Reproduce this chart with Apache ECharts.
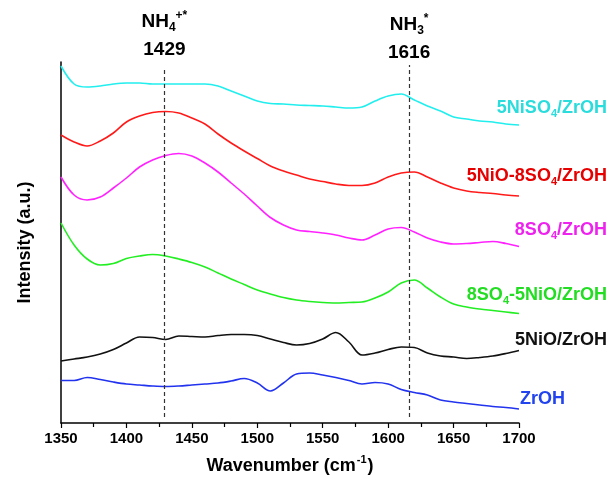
<!DOCTYPE html>
<html>
<head>
<meta charset="utf-8">
<script src="https://cdn.jsdelivr.net/npm/echarts@6/dist/echarts.min.js"></script>
<style>
  html, body { margin: 0; padding: 0; background: #fff; }
  #chart { width: 611px; height: 482px; }
</style>
</head>
<body>
<div id="chart"></div>
<script>
// 波数 (cm-1)
var wavenumber = [1350,1360,1370,1380,1390,1400,1410,1420,1430,1440,1450,1460,1470,1480,1490,1500,1510,1520,
                  1530,1540,1550,1560,1570,1580,1590,1600,1610,1620,1630,1640,1650,1660,1670,1680,1690,1700];

// 各样品的强度 (a.u.，已包含堆叠偏移)
var niSO4 = [357,339,336,337,339,340,340,339,339,339,339,339,337,332,327,322,319.5,319,
             318,317.5,317,316,315,316,322,327,329,323,317,312,306,304,302,301,299,298];
var niO8SO4 = [288,281,277,282,290,301,307,310.5,311.5,310,305,299,289,280,272,264.5,257,252,
               248,244,241.5,239,237.5,237.5,240,246,250,251,246,240,235,232,230.5,229.5,228,227];
var so4 = [246,228,223,226,235,245,256,263,267.5,269.5,267,260,251,240,229,217,205.5,198,
           193,191.5,190,188,185,183,188,194,195.5,191,185,181,179,179.5,180.5,181.5,179.5,176.5];
var so4NiO = [200,178,164,158,159.5,164.5,167,168.5,167,164,160.5,156,150,144,138.5,133,129,125.5,
              123,121.5,120.5,120,120.5,121,125,131,140,143,135,126,119,116,114,112.5,111,109.5];
var niO = [62,64,66,69,73.5,80,86,85.5,83.5,87,86.5,86,87.5,88.5,88.5,87.5,84,80.5,
           78,79.5,84,90.5,81,68,70,73.5,76,75.5,70,67,66,64.5,65.5,67,69.5,72.5];
var zrOH = [42.5,42.5,45.5,43.5,41,39,38,37,36.5,37,38,39,40,42,44.5,40,32,40,
            49,50,48,45.5,42.5,39,40.5,39,33.5,30.5,28,23,21,19.5,18,16.5,15.5,14];

var seriesNames = ['5NiSO4/ZrOH','5NiO-8SO4/ZrOH','8SO4/ZrOH','8SO4-5NiO/ZrOH','5NiO/ZrOH','ZrOH'];
var seriesData = [niSO4, niO8SO4, so4, so4NiO, niO, zrOH];
var lineColors = ['#22EEEE','#FF1A1A','#FF22FF','#22EE22','#111111','#2233EE'];
var labelColors = ['#2ADCDC','#E60000','#EE22EE','#22DD22','#111111','#2244EE'];
// 标签文字 (rich)
var labelTexts = ['{a|5NiSO}{s|4}{a|/ZrOH}','{a|5NiO-8SO}{s|4}{a|/ZrOH}','{a|8SO}{s|4}{a|/ZrOH}',
                  '{a|8SO}{s|4}{a|-5NiO/ZrOH}','{a|5NiO/ZrOH}','{a|ZrOH}'];
var labelY = [110,178,232,297,342,401];
var labelRight = [607,607,607,607,607,565];

// 峰位
var peakPositions = [1429, 1616];
var peakNames = ['{a|NH}{s|4}{p|+*}', '{a|NH}{s|3}{p|*}'];

var myChart = echarts.init(document.getElementById('chart'));

function toPairs(ys){
    var out = [];
    for (var i = 0; i < wavenumber.length; i++) out.push([wavenumber[i], ys[i]]);
    return out;
}

var series = [];
for (var i = 0; i < seriesNames.length; i++) {
    series.push({
        name: seriesNames[i],
        type: 'line',
        data: toPairs(seriesData[i]),
        smooth: 0.35,
        symbol: 'none',
        lineStyle: { color: lineColors[i], width: 1.6 },
        z: 3
    });
}
// 虚线
series[0].markLine = {
    silent: true,
    symbol: 'none',
    label: { show: false },
    lineStyle: { color: '#333', width: 1.2, type: [4, 3] },
    data: [
        [{ coord: [peakPositions[0], 6] }, { coord: [peakPositions[0], 355] }],
        [{ coord: [peakPositions[1], 6] }, { coord: [peakPositions[1], 358] }]
    ]
};

var option = {
    animation: false,
    backgroundColor: '#fff',
    grid: { left: 61, right: 92, top: 62, bottom: 59 },
    xAxis: {
        type: 'value',
        min: 1350,
        max: 1700,
        interval: 50,
        name: '{b|Wavenumber (cm}{sup|-1}{b|)}',
        nameLocation: 'middle',
        nameGap: 31,
        nameTextStyle: {
            rich: {
                b: { fontFamily: 'Liberation Sans', fontWeight: 'bold', fontSize: 18, color: '#000' },
                sup: { fontFamily: 'Liberation Sans', fontWeight: 'bold', fontSize: 11, color: '#000', verticalAlign: 'top', padding: [0, 1, 14, 1] }
            }
        },
        axisLine: { lineStyle: { color: '#000', width: 1.5 } },
        axisTick: { show: true, length: 5, lineStyle: { color: '#000', width: 1.2 } },
        minorTick: { show: true, splitNumber: 2, length: 4, lineStyle: { color: '#000', width: 1.2 } },
        axisLabel: {
            color: '#000', fontFamily: 'Liberation Sans', fontWeight: 'bold', fontSize: 15, margin: 8,
            formatter: function (v) { return String(v); }
        },
        splitLine: { show: false }
    },
    yAxis: {
        type: 'value',
        min: 0,
        max: 361,
        name: 'Intensity (a.u.)',
        nameLocation: 'middle',
        nameGap: 27,
        nameTextStyle: { color: '#000', fontFamily: 'Liberation Sans', fontWeight: 'bold', fontSize: 18 },
        axisLine: { show: true, lineStyle: { color: '#000', width: 1.5 } },
        axisTick: { show: false },
        axisLabel: { show: false },
        splitLine: { show: false }
    },
    series: series
};

myChart.setOption(option);

// 文字标注
var graphics = [];
var richLabel = function(color){
    return {
        a: { fontFamily: 'Liberation Sans', fontWeight: 'bold', fontSize: 18, fill: color },
        s: { fontFamily: 'Liberation Sans', fontWeight: 'bold', fontSize: 11, fill: color, verticalAlign: 'bottom', padding: [11, 0, 0, 0] }
    };
};
for (var j = 0; j < seriesNames.length; j++) {
    graphics.push({
        type: 'text',
        right: 611 - labelRight[j],
        top: labelY[j] - 11,
        style: {
            text: labelTexts[j],
            fill: labelColors[j],
            rich: richLabel(labelColors[j])
        }
    });
}
var peakOffsetY = [0, 3];
for (var k = 0; k < peakPositions.length; k++) {
    var px = myChart.convertToPixel({ xAxisIndex: 0 }, peakPositions[k]);
    graphics.push({
        type: 'text',
        x: px,
        y: 22 + peakOffsetY[k],
        style: {
            text: peakNames[k],
            align: 'center',
            verticalAlign: 'middle',
            rich: {
                a: { fontFamily: 'Liberation Sans', fontWeight: 'bold', fontSize: 19, fill: '#000' },
                s: { fontFamily: 'Liberation Sans', fontWeight: 'bold', fontSize: 12, fill: '#000', verticalAlign: 'bottom', padding: [12, 0, 0, 0] },
                p: { fontFamily: 'Liberation Sans', fontWeight: 'bold', fontSize: 12, fill: '#000', verticalAlign: 'top', padding: [0, 0, 10, 0] }
            }
        }
    });
    graphics.push({
        type: 'text',
        x: px,
        y: 50 + peakOffsetY[k],
        style: {
            text: String(peakPositions[k]),
            align: 'center',
            verticalAlign: 'middle',
            fontFamily: 'Liberation Sans',
            fontWeight: 'bold',
            fontSize: 19,
            fill: '#000'
        }
    });
}
myChart.setOption({ graphic: graphics });
</script>
</body>
</html>
